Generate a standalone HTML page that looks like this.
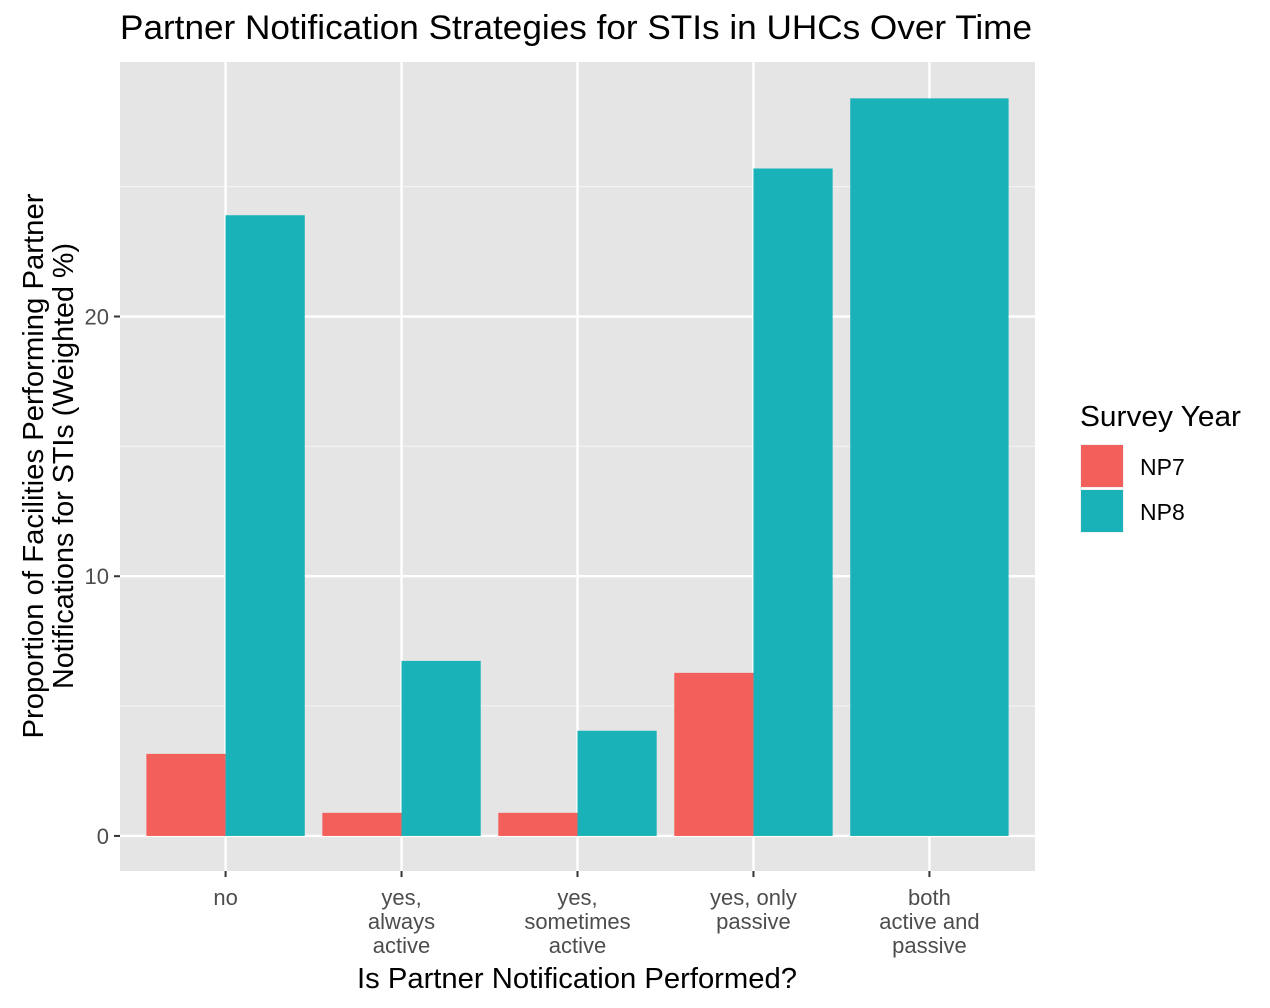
<!DOCTYPE html>
<html><head><meta charset="utf-8"><style>
body{margin:0;background:#fff;}
svg{display:block;font-family:"Liberation Sans",Arial,sans-serif;}
</style></head><body>
<svg id="chart" width="1270" height="1008">
<text x="576" y="39" font-size="34" text-anchor="middle" fill="#000" textLength="912" lengthAdjust="spacingAndGlyphs">Partner Notification Strategies for STIs in UHCs Over Time</text>
<rect x="120" y="62" width="915" height="809" fill="#e5e5e5"/>
<g id="grid"></g>
<g id="bars"></g>
<g id="axes"></g>
<text x="577" y="988" font-size="29" text-anchor="middle" textLength="440" lengthAdjust="spacingAndGlyphs">Is Partner Notification Performed?</text>
<text transform="translate(43,466) rotate(-90)" font-size="29" text-anchor="middle"><tspan x="0" dy="0" textLength="545" lengthAdjust="spacingAndGlyphs">Proportion of Facilities Performing Partner</tspan><tspan x="0" dy="30" textLength="446" lengthAdjust="spacingAndGlyphs">Notifications for STIs (Weighted %)</tspan></text>
<g>
<text x="1080" y="426" font-size="29" textLength="161" lengthAdjust="spacingAndGlyphs">Survey Year</text>
<rect x="1080" y="444" width="44" height="44" fill="#f2f2f2"/>
<rect x="1081" y="445" width="42" height="42" fill="#f35f5b"/>
<text x="1140" y="475" font-size="23">NP7</text>
<rect x="1080" y="489" width="44" height="44" fill="#f2f2f2"/>
<rect x="1081" y="490" width="42" height="42" fill="#19b2b8"/>
<text x="1140" y="520" font-size="23">NP8</text>
</g>
</svg>
<script>
const categories=[["no"],["yes,","always","active"],["yes,","sometimes","active"],["yes, only","passive"],["both","active and","passive"]];
const np7=[3.16,0.89,0.89,6.28,null];
const np8=[23.9,6.74,4.05,25.7,28.4];
const yTicks=[0,10,20];
const yMinor=[5,15,25];
const colors=["#f35f5b","#19b2b8"];
const NS="http://www.w3.org/2000/svg";
const px0=120,px1=1035,pyTop=62,pyBot=871,yMin=-1.35,yMax=29.8;
const y=v=>pyBot-(v-yMin)/(yMax-yMin)*(pyBot-pyTop);
const step=(px1-px0)/(categories.length+0.2);
const x=i=>px0+step*(0.6+i);
function mk(tag,attrs,parent){const e=document.createElementNS(NS,tag);for(const k in attrs)e.setAttribute(k,attrs[k]);parent.appendChild(e);return e;}
const grid=document.getElementById('grid'),bars=document.getElementById('bars'),axes=document.getElementById('axes');
yMinor.forEach(v=>{const l=mk('line',{x1:px0,x2:px1,y1:y(v),y2:y(v),stroke:'#f2f2f2','stroke-width':1.2},grid);

});
yTicks.forEach(v=>{const l=mk('line',{x1:px0,x2:px1,y1:y(v),y2:y(v),stroke:'#fff','stroke-width':2.4},grid);


const t=mk('line',{x1:px0-6,x2:px0,y1:y(v),y2:y(v),stroke:'#333','stroke-width':2},axes);


const tx=mk('text',{x:px0-11,y:y(v)+8,'font-size':22,'text-anchor':'end',fill:'#4d4d4d'},axes);tx.textContent=v;

});
categories.forEach((c,i)=>{const l=mk('line',{x1:x(i),x2:x(i),y1:pyTop,y2:pyBot,stroke:'#fff','stroke-width':2.4},grid);


const t=mk('line',{x1:x(i),x2:x(i),y1:pyBot,y2:pyBot+6,stroke:'#333','stroke-width':2},axes);


const tx=mk('text',{x:x(i),y:pyBot+34,'font-size':22,'text-anchor':'middle',fill:'#4d4d4d'},axes);


c.forEach((s,j)=>{const ts=mk('tspan',{x:x(i),dy:j?24:0},tx);ts.textContent=s;});
const w=step*0.9;
const vals=[np7[i],np8[i]];
const present=vals.map((v,k)=>[v,k]).filter(p=>p[0]!==null);
const bw=w/present.length;
present.forEach(([v,k],j)=>{const r=mk('rect',{x:x(i)-w/2+j*bw,y:y(v),width:bw,height:y(0)-y(v),fill:colors[k]},bars);

});
});
</script>
</body></html>
